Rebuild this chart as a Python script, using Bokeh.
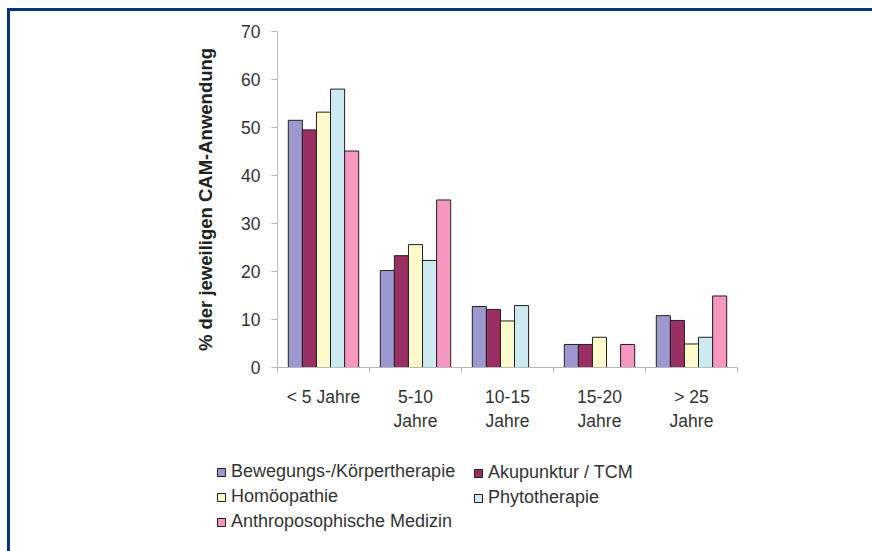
from bokeh.plotting import figure
from bokeh.models import (Range1d, LinearAxis, FixedTicker, Legend, LegendItem, ColumnDataSource)
from bokeh.layouts import column
from bokeh.transform import dodge
from bokeh.embed import file_html
from bokeh.resources import INLINE

categories = ["< 5 Jahre", "5-10\nJahre", "10-15\nJahre", "15-20\nJahre", "> 25\nJahre"]
series_names = ["Bewegungs-/Körpertherapie", "Akupunktur / TCM", "Homöopathie",
                "Phytotherapie", "Anthroposophische Medizin"]
bewegung = [51.5, 20.2, 12.7, 4.8, 10.8]
akupunktur = [49.5, 23.3, 12.1, 4.8, 9.8]
homoeopathie = [53.2, 25.6, 9.7, 6.3, 4.9]
phytotherapie = [58.0, 22.3, 12.9, None, 6.3]
anthroposophie = [45.1, 34.9, None, 4.8, 14.9]
y_ticks = [0, 10, 20, 30, 40, 50, 60, 70]

colors = ["#9b99cf", "#9a2f62", "#fdfbcb", "#cdeaf3", "#f597c0"]
FONT = "Liberation Sans"
AXIS_GREY = "#b8b8b8"

n = len(categories)
centers = [i + 0.5 for i in range(n)]
series = [bewegung, akupunktur, homoeopathie, phytotherapie, anthroposophie]
data = {"pos": centers}
for i, s in enumerate(series):
    data[f"s{i}"] = [float("nan") if v is None else v for v in s]
source = ColumnDataSource(data)

# ---- main chart ----
p = figure(width=862, height=440, x_range=Range1d(0, n), y_range=Range1d(0, 70),
           x_axis_location=None,
           min_border_left=267, min_border_right=135, min_border_top=20, min_border_bottom=84,
           output_backend="svg", toolbar_location=None)
p.outline_line_color = None
p.xgrid.visible = False
p.ygrid.visible = False

w = 0.153
for i in range(5):
    p.vbar(x=dodge("pos", (i - 2) * w), top=f"s{i}", width=w,
           source=source, fill_color=colors[i], line_color="#202020", line_width=1)

ya = p.yaxis[0]
ya.ticker = FixedTicker(ticks=y_ticks)
ya.axis_line_color = AXIS_GREY
ya.major_tick_line_color = AXIS_GREY
ya.major_tick_out = 6
ya.major_tick_in = 0
ya.minor_tick_line_color = None
ya.major_label_standoff = 11
ya.major_label_text_font = FONT
ya.major_label_text_font_size = "17.5px"
ya.major_label_text_color = "#333333"
ya.axis_label = "% der jeweiligen CAM-Anwendung"
ya.axis_label_text_font = FONT
ya.axis_label_text_font_size = "18.5px"
ya.axis_label_text_font_style = "bold"
ya.axis_label_text_color = "#222222"
ya.axis_label_standoff = 22

xa = LinearAxis(ticker=FixedTicker(ticks=centers, minor_ticks=list(range(n + 1))),
                major_label_overrides={c: lab for c, lab in zip(centers, categories)},
                axis_line_color=AXIS_GREY, major_tick_line_color=None,
                major_tick_out=0, major_tick_in=0,
                minor_tick_line_color=AXIS_GREY, minor_tick_out=5, minor_tick_in=0,
                major_label_standoff=14, major_label_text_font=FONT,
                major_label_text_font_size="17.5px", major_label_text_color="#333333")
p.add_layout(xa, "below")

# ---- legend panel ----
pl = figure(width=862, height=100, x_range=Range1d(0, 1), y_range=Range1d(0, 1),
            x_axis_location=None, y_axis_location=None, min_border=0,
            output_backend="svg", toolbar_location=None)
pl.outline_line_color = None
pl.xgrid.visible = False
pl.ygrid.visible = False
for fig in (p, pl):
    if "frame_align" in fig.properties():
        fig.frame_align = False

leg_renderers = []
for i in range(5):
    r = pl.vbar(x="pos", top=f"s{i}", width=w, source=source,
                fill_color=colors[i], line_color="#202020", line_width=1, visible=False)
    leg_renderers.append(r)

def make_legend(idx, loc):
    items = [LegendItem(label=series_names[i], renderers=[leg_renderers[i]]) for i in idx]
    return Legend(items=items, location=loc, padding=0, margin=0, spacing=4,
                  label_height=20, glyph_height=10, glyph_width=10, label_standoff=5,
                  border_line_color=None, background_fill_alpha=0,
                  label_text_font=FONT, label_text_font_size="18px",
                  label_text_color="#333333")

pl.add_layout(make_legend([0, 2, 4], (206, 19)))
pl.add_layout(make_legend([1, 3], (463, 43)))

layout = column(p, pl, spacing=0)
layout.styles = {"margin-left": "7px", "margin-top": "8px",
                 "border-top": "3px solid #00367d", "border-left": "3px solid #00367d"}

open("out.html", "w").write(file_html(layout, INLINE))
